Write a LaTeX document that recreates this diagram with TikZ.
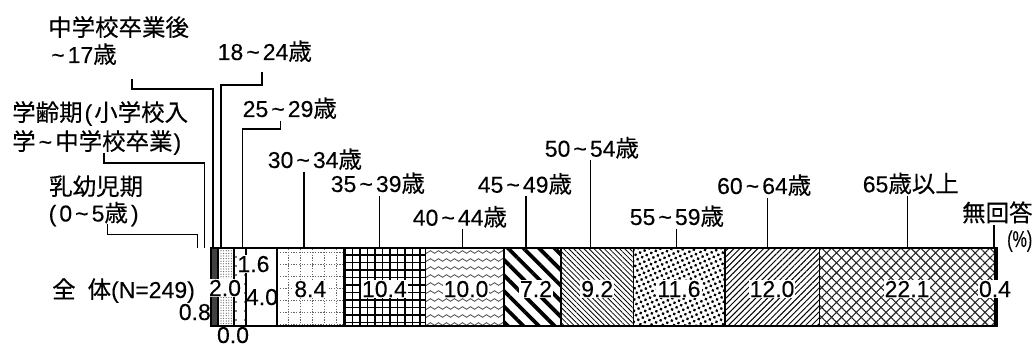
\documentclass[tikz,border=0pt]{standalone}
\usepackage{fontspec}
\setmainfont[FakeBold=0.2]{Liberation Sans}
\newfontfamily\jfont[Scale=1.02,FakeBold=0.3]{Noto Sans CJK JP}
\usepackage{tikz}
\usetikzlibrary{patterns.meta,decorations.pathmorphing}
\newcommand\til{\makebox[0.85em]{\textasciitilde}}
\newcommand\agerange[2]{#1\til#2{\jfont 歳}}
\tikzset{
  lbl/.style={inner xsep=0pt, inner ysep=1.5pt, anchor=base west},
  val/.style={fill=white, inner sep=1pt, anchor=base},
  seg/.style={draw, line width=1.6pt},
  lead/.style={line width=1.5pt}
}

\begin{document}
\begin{tikzpicture}[x=1pt, y=-1pt, font=\fontsize{23}{27}\selectfont]
\useasboundingbox (0,0) rectangle (1035,347);

\draw[seg, fill=black!75] (211,248) rectangle (218,326);
\draw[seg, pattern={Dots[distance=2.6pt,radius=0.6pt]}, pattern color=black!65] (218,248) rectangle (234,326);
\draw[seg, pattern={Dots[distance=9pt,radius=0.8pt,xshift=2pt]}] (234,248) rectangle (245.7,326);
\draw[seg] (245.7,248) rectangle (277.2,326);
\draw[black!60, line width=0.8pt, dash pattern=on 1.2pt off 1.5pt, step=12pt] (277.2,326) grid (343.4,248);
\draw[seg] (277.2,248) rectangle (343.4,326);
\draw[line width=1.1pt, step=7.5pt] (343.4,326) grid (425.3,248);
\draw[seg] (343.4,248) rectangle (425.3,326);
\begin{scope}
  \clip (425.3,248) rectangle (504.1,326);
  \foreach \y in {252,260,...,324}
    \draw[black!70, line width=0.8pt, decorate, decoration={snake, amplitude=1.3pt, segment length=8pt}] (420,\y) -- (510,\y);
\end{scope}
\draw[seg] (425.3,248) rectangle (504.1,326);
\draw[seg, pattern={Lines[angle=-45,distance=11pt,line width=3.8pt]}] (504.1,248) rectangle (561,326);
\draw[seg, pattern={Lines[angle=-45,distance=3.6pt,line width=0.8pt]}] (561,248) rectangle (633.4,326);
\draw[seg, pattern={Dots[angle=25,distance=5pt,radius=1.6pt]}] (633.4,248) rectangle (724.8,326);
\draw[seg, pattern={Lines[angle=45,distance=4.2pt,line width=1pt]}] (724.8,248) rectangle (819.3,326);
\draw[seg, pattern={Hatch[angle=45,distance=7pt,line width=1.1pt]}, pattern color=black!85] (819.3,248) rectangle (994.5,326);
\draw[seg, fill=black] (994.5,248) rectangle (997.5,326);

\node[lbl] (junior1) at (48,36) {\jfont 中学校卒業後};
\node[lbl] (junior2) at (48,63) {\til 17{\jfont 歳}};
\node[lbl] (school1) at (12,121) {{\jfont 学齢期}\kern2pt(\kern2pt{\jfont 小学校入}};
\node[lbl] (school2) at (12,150) {{\jfont 学}\til{\jfont 中学校卒業}\kern1pt)};
\node[lbl] (infant1) at (49,195) {\jfont 乳幼児期};
\node[lbl] (infant2) at (48.5,221.5) {(\kern3pt0\til5{\jfont 歳}\kern3pt)};
\node[lbl] (a18) at (217.5,60) {\agerange{18}{24}};
\node[lbl] (a25) at (242.5,117) {\agerange{25}{29}};
\node[lbl] (a30) at (267.6,168) {\agerange{30}{34}};
\node[lbl] (a35) at (330.6,192) {\agerange{35}{39}};
\node[lbl] (a40) at (412.6,225.7) {\agerange{40}{44}};
\node[lbl] (a45) at (477.6,192.7) {\agerange{45}{49}};
\node[lbl] (a50) at (544.6,156.7) {\agerange{50}{54}};
\node[lbl] (a55) at (629.6,225) {\agerange{55}{59}};
\node[lbl] (a60) at (716.9,194) {\agerange{60}{64}};
\node[lbl] (a65) at (862.6,192.3) {65{\jfont 歳以上}};
\node[lbl] (na) at (962,221.5) {\jfont 無回答};
\node[lbl] (pct) at (1007,247) {\scalebox{0.7}[1]{(\%)}};
\node[lbl] (total) at (52,298) {{\jfont 全}\hspace{12pt}{\jfont 体}(N=249)};

\node[anchor=base east, inner sep=0pt] (p-infant) at (211,320) {0.8};
\node[val] (p-school) at (225,296) {2.0};
\node[anchor=base, inner sep=0pt] (p-junior) at (233,343) {0.0};
\node[anchor=base, inner sep=0pt] (p-a25) at (262,305) {4.0};
\node[val] (p-a18) at (253.5,272) {1.6};
\node[val] (p-a30) at (310.3,297) {8.4};
\node[val] (p-a35) at (384.4,297) {10.4};
\node[val] (p-a40) at (466,297) {10.0};
\node[val] (p-a45) at (536,297) {7.2};
\node[val] (p-a50) at (597.2,297) {9.2};
\node[val] (p-a55) at (679,297) {11.6};
\node[val] (p-a60) at (772,297) {12.0};
\node[val] (p-a65) at (907,297) {22.1};
\node[val] (p-na) at (995,297) {0.4};

\coordinate (infant-t) at (197.5,248);
\coordinate (school-t) at (204.3,248);
\coordinate (junior-t) at (213,248);
\coordinate (a18-t) at (221,248);
\coordinate (a25-t) at (242.3,248);
\coordinate (a30-t) at (304,248);
\coordinate (a35-t) at (379.3,248);
\coordinate (a40-t) at (462.3,248);
\coordinate (a45-t) at (526,248);
\coordinate (a50-t) at (590.7,248);
\coordinate (a55-t) at (676.7,248);
\coordinate (a60-t) at (767.3,248);
\coordinate (a65-t) at (907.3,248);
\coordinate (na-t) at (994,248);

\draw[lead] ([shift={(59pt,-3pt)}]infant2.base west) -- ++(0,10) -| (infant-t);
\draw[lead] ([shift={(92pt,-3pt)}]school2.base west) -- ++(0,10) -| (school-t);
\draw[lead] ([shift={(84pt,-16pt)}]junior2.base west) -- ++(0,10) -| (junior-t);
\draw[lead] ([shift={(44.5pt,-12pt)}]a18.base west) -- ++(0,13) -| (a18-t);
\draw[lead] ([shift={(38pt,-4pt)}]a25.base west) -- ++(0,8) -| (a25-t);
\foreach \n in {a30,a35,a40,a45,a50,a55,a60,a65,na}
  \draw[lead] (\n.south -| \n-t) -- (\n-t);
\end{tikzpicture}
\end{document}
